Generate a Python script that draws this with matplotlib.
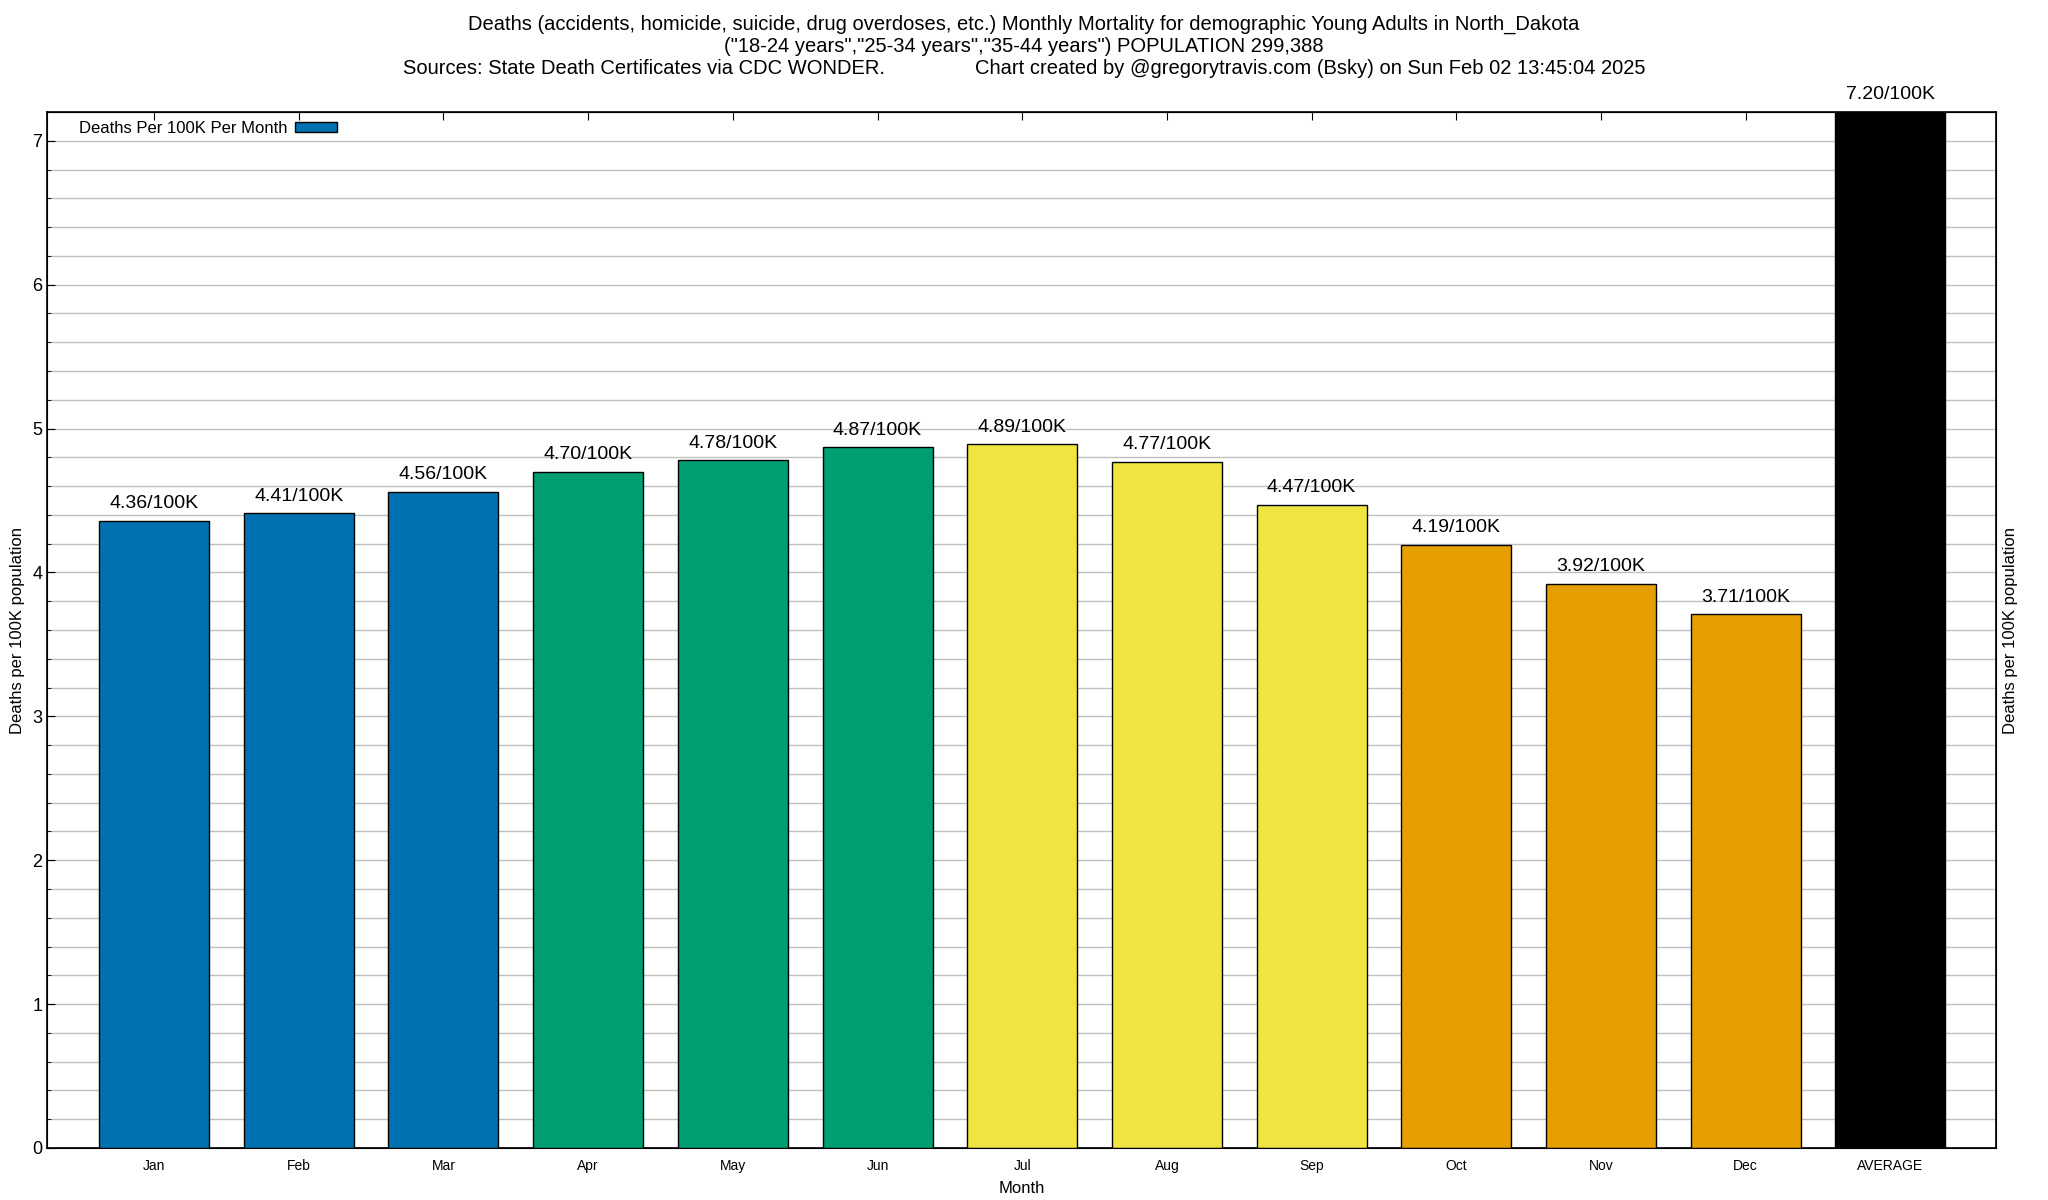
import numpy as np
import matplotlib
matplotlib.use("Agg")
import matplotlib.pyplot as plt
from matplotlib.ticker import MultipleLocator
from matplotlib.patches import Patch

# data
months = ["Jan", "Feb", "Mar", "Apr", "May", "Jun", "Jul", "Aug", "Sep",
          "Oct", "Nov", "Dec", "AVERAGE"]
rates = [4.36, 4.41, 4.56, 4.70, 4.78, 4.87, 4.89, 4.77, 4.47,
         4.19, 3.92, 3.71, 7.20]
colors = ["#0072B2"] * 3 + ["#009E73"] * 3 + ["#F0E442"] * 3 + ["#E69F00"] * 3 + ["#000000"]

title = ("Deaths (accidents, homicide, suicide, drug overdoses, etc.) Monthly Mortality "
         "for demographic Young Adults in North_Dakota\n"
         "(\"18-24 years\",\"25-34 years\",\"35-44 years\") POPULATION 299,388\n"
         "Sources: State Death Certificates via CDC WONDER.                "
         "Chart created by @gregorytravis.com (Bsky) on Sun Feb 02 13:45:04 2025")

plt.rcParams["font.family"] = ["Liberation Sans", "DejaVu Sans"]

fig = plt.figure(figsize=(20.48, 12), dpi=100)
ax = fig.add_axes([47 / 2048, 1 - 1148 / 1200, (1996 - 47) / 2048, (1148 - 112) / 1200])

x = np.arange(len(months))
ax.bar(x, rates, width=0.76, color=colors, edgecolor="black", linewidth=1, zorder=3)

for xi, v in zip(x, rates):
    ax.text(xi, v + 0.06, f"{v:.2f}/100K", ha="center", va="bottom",
            fontsize=14, clip_on=False, zorder=4)

ax.set_xlim(-0.74, 12.73)
ax.set_ylim(0, 7.2)
ax.set_xticks(x)
ax.set_xticklabels(months, fontsize=10)
ax.yaxis.set_major_locator(MultipleLocator(1))
ax.yaxis.set_minor_locator(MultipleLocator(0.2))
ax.tick_params(axis="y", which="both", direction="in", right=True, labelsize=13,
               length=6)
ax.tick_params(axis="y", which="minor", length=3)
ax.tick_params(axis="x", direction="in", top=True, length=6, pad=8)
ax.grid(axis="y", which="both", color="#c0c0c0", linewidth=1, zorder=0)
ax.set_axisbelow(True)
for s in ax.spines.values():
    s.set_linewidth(1.2)

ax.set_xlabel("Month", fontsize=12, labelpad=6)
ax.set_ylabel("Deaths per 100K population", fontsize=12, labelpad=5)
ax2 = ax.twinx()
ax2.set_ylim(0, 7.2)
ax2.set_yticks([])
ax2.set_ylabel("Deaths per 100K population", fontsize=12, labelpad=5)

leg = ax.legend(handles=[Patch(facecolor="#0072B2", edgecolor="black",
                               label="Deaths Per 100K Per Month")],
                loc="upper left", frameon=False, markerfirst=False, fontsize=12,
                handlelength=2.5, handleheight=0.5, handletextpad=0.5,
                borderaxespad=0, bbox_to_anchor=(0.0128, 0.998))

fig.text(0.5, 0.988, title, ha="center", va="top", fontsize=14.5, linespacing=1.2)

fig.savefig("out.png", dpi=100)
